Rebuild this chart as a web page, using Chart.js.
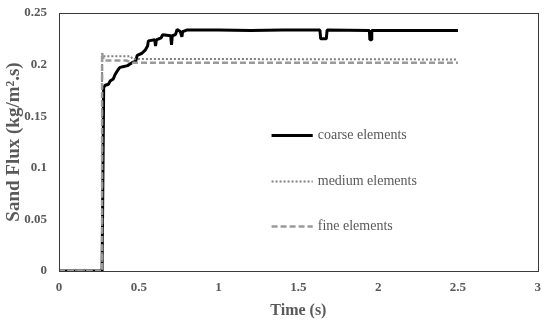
<!DOCTYPE html>
<html>
<head>
<meta charset="utf-8">
<script src="https://cdn.jsdelivr.net/npm/chart.js@4"></script>
<style>
html,body{margin:0;padding:0;background:#fff;}
#wrap{width:550px;height:320px;}
</style>
</head>
<body>
<div id="wrap"><canvas id="c" width="550" height="320"></canvas></div>
<script>
// ---- data ----
const seriesNames = ["coarse elements", "medium elements", "fine elements"];
const coarseT = [0, 0.27, 0.28, 0.29, 0.31, 0.32, 0.34, 0.35, 0.37, 0.38, 0.40, 0.43, 0.44, 0.46, 0.48, 0.49, 0.52, 0.54, 0.555, 0.56, 0.60, 0.605, 0.61, 0.64, 0.65, 0.70, 0.705, 0.71, 0.73, 0.74, 0.76, 0.77, 0.775, 0.80, 1.0, 1.2, 1.4, 1.635, 1.64, 1.675, 1.68, 1.945, 1.948, 1.956, 1.96, 2.2, 2.5];
const coarseV = [0, 0, 0.178, 0.18, 0.181, 0.184, 0.186, 0.19, 0.195, 0.197, 0.198, 0.199, 0.2, 0.202, 0.203, 0.209, 0.211, 0.214, 0.218, 0.223, 0.224, 0.218, 0.224, 0.226, 0.229, 0.228, 0.219, 0.228, 0.229, 0.234, 0.232, 0.227, 0.232, 0.2335, 0.2335, 0.233, 0.2335, 0.2335, 0.225, 0.225, 0.2335, 0.233, 0.224, 0.224, 0.233, 0.233, 0.233];
const mediumT = [0, 0.27, 0.27, 0.28, 0.45, 0.46, 2.5];
const mediumV = [0, 0, 0.211, 0.208, 0.208, 0.2055, 0.205];
const fineT = [0, 0.27, 0.27, 0.28, 0.42, 0.46, 2.5];
const fineV = [0, 0, 0.211, 0.204, 0.204, 0.2017, 0.2017];
const xTicks = [0, 0.5, 1, 1.5, 2, 2.5, 3];
const yTicks = [0, 0.05, 0.1, 0.15, 0.2, 0.25];
const xTitle = "Time (s)";
const yTitle = "Sand Flux (kg/m\u00B2.s)";

function pts(t, v){ return t.map((x,i)=>({x:x, y:v[i]})); }

const serif = "'Liberation Serif', 'Times New Roman', serif";
const grey = "#595959";

const styles = [
  {color:"#000000", width:3, dash:[]},
  {color:"#7f7f7f", width:2, dash:[2,2]},
  {color:"#9a9a9a", width:2.5, dash:[6,3]}
];

const frame = {
  id:'frame',
  afterDatasetsDraw(chart){
    const a = chart.chartArea, ctx = chart.ctx;
    ctx.save();
    ctx.strokeStyle = "#3a3a3a";
    ctx.lineWidth = 1;
    ctx.strokeRect(Math.round(a.left)+0.5, Math.round(a.top)+0.5, Math.round(a.right-a.left), Math.round(a.bottom-a.top));
    ctx.restore();
  }
};

const legendPos = [0.473, 0.651, 0.826]; // fractions of chart area height
const innerLegend = {
  id:'innerLegend',
  afterDraw(chart){
    const a = chart.chartArea, ctx = chart.ctx;
    const w = a.right - a.left, h = a.bottom - a.top;
    ctx.save();
    chart.data.datasets.forEach((ds,i)=>{
      const y = Math.round(a.top + legendPos[i]*h) + 0.5;
      const x0 = a.left + 0.444*w, x1 = a.left + 0.53*w;
      ctx.strokeStyle = ds.borderColor;
      ctx.lineWidth = ds.borderWidth;
      ctx.setLineDash(ds.borderDash || []);
      ctx.beginPath(); ctx.moveTo(x0,y); ctx.lineTo(x1,y); ctx.stroke();
      ctx.setLineDash([]);
      ctx.fillStyle = grey;
      ctx.font = "14px " + serif;
      ctx.textBaseline = "middle";
      ctx.textAlign = "left";
      ctx.fillText(ds.label, x1 + 5, y);
    });
    ctx.restore();
  }
};

const datasets = [
  pts(coarseT, coarseV), pts(mediumT, mediumV), pts(fineT, fineV)
].map((d,i)=>({
  label: seriesNames[i],
  data: d,
  borderColor: styles[i].color,
  borderWidth: styles[i].width,
  borderDash: styles[i].dash,
  borderJoinStyle: 'bevel',
  pointRadius: 0,
  fill: false,
  tension: 0,
  order: 3 - i
}));

new Chart(document.getElementById('c'), {
  type: 'scatter',
  data: { datasets },
  options: {
    responsive: false,
    animation: false,
    showLine: true,
    layout: { padding: { left: 0, right: 11, top: 13, bottom: 0 } },
    plugins: { legend: { display: false }, tooltip: { enabled: false } },
    scales: {
      x: {
        type: 'linear', min: 0, max: 3,
        afterBuildTicks(s){ s.ticks = xTicks.map(v=>({value:v})); },
        afterFit(s){ s.height = 49; },
        grid: { display: false, drawTicks: false },
        border: { display: false },
        ticks: { padding: 9, color: grey, font: { family: serif, size: 13, weight: 'bold' }, maxRotation: 0,
                 callback: v => String(v) },
        title: { display: true, text: xTitle, color: grey, font: { family: serif, size: 16, weight: 'bold' }, padding: { top: 3, bottom: 0 } }
      },
      y: {
        type: 'linear', min: 0, max: 0.25,
        afterBuildTicks(s){ s.ticks = yTicks.map(v=>({value:v})); },
        afterFit(s){ s.width = 59; s.paddingTop = 7; s.paddingBottom = 7; },
        grid: { display: false, drawTicks: false },
        border: { display: false },
        ticks: { padding: 12, color: grey, font: { family: serif, size: 13, weight: 'bold' },
                 callback: v => String(Math.round(v*100)/100) },
        title: { display: true, text: yTitle, color: grey, font: { family: serif, size: 19, weight: 'bold' }, padding: { top: 3, bottom: 0 } }
      }
    }
  },
  plugins: [frame, innerLegend]
});
</script>
</body>
</html>
